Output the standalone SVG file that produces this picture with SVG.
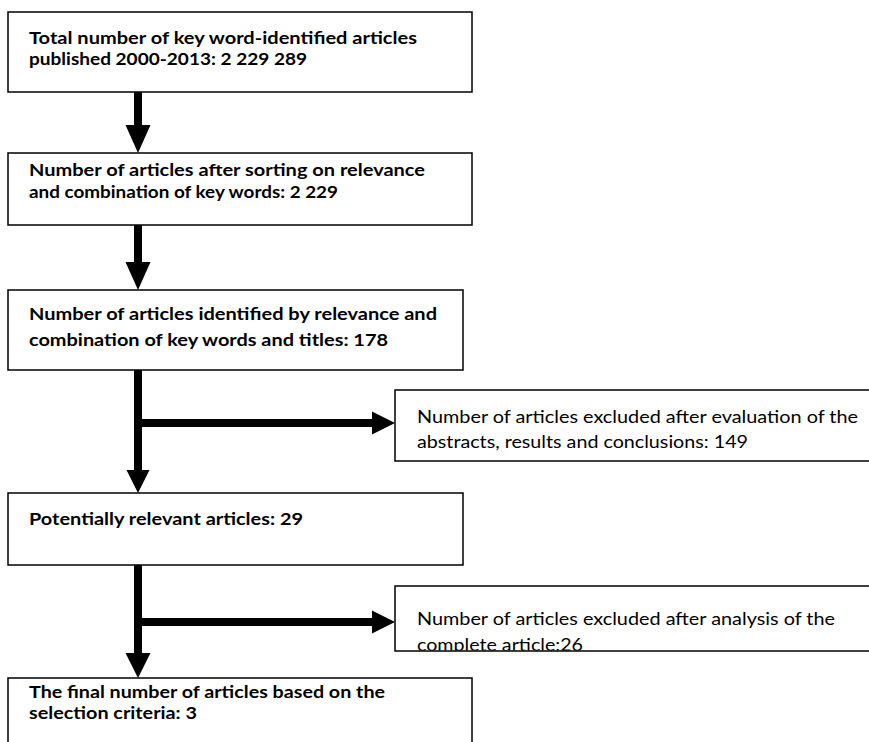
<svg xmlns="http://www.w3.org/2000/svg" width="869" height="742" viewBox="0 0 869 742">
<style>
.box{fill:#fff;stroke:#000;stroke-width:1.5}
.b{font-family:Lato,"Open Sans","Liberation Sans",sans-serif;font-weight:bold;font-size:17.5px;fill:#000}
.r{font-family:Lato,"Open Sans","Liberation Sans",sans-serif;font-size:17.5px;fill:#000}
.shaft{stroke:#000;stroke-width:8;fill:none}
.head{fill:#000}
</style>
<defs>
<clipPath id="clip7"><rect x="396" y="587" width="480" height="63.5"/></clipPath>
</defs>
<rect width="869" height="742" fill="#fff"/>
<g id="connectors">
<line class="shaft" x1="138" y1="92" x2="138" y2="127"/>
<polygon class="head" points="125.5,125 150.5,125 138,153"/>
<line class="shaft" x1="138" y1="225" x2="138" y2="264"/>
<polygon class="head" points="125.5,262 150.5,262 138,290"/>
<line class="shaft" x1="138" y1="370" x2="138" y2="472"/>
<polygon class="head" points="126.5,470 149.5,470 138,493"/>
<line class="shaft" x1="134" y1="423" x2="374" y2="423"/>
<polygon class="head" points="372,411.5 372,434.5 395,423"/>
<line class="shaft" x1="138" y1="565" x2="138" y2="655"/>
<polygon class="head" points="125.5,653 150.5,653 138,678"/>
<line class="shaft" x1="134" y1="622" x2="374" y2="622"/>
<polygon class="head" points="372,610.5 372,633.5 395,622"/>
</g>
<g id="n1">
<rect class="box" x="8" y="12" width="464" height="80"/>
<text class="b" x="29" y="44" textLength="388" lengthAdjust="spacingAndGlyphs">Total number of key word-identified articles</text>
<text class="b" x="29" y="65" textLength="278" lengthAdjust="spacingAndGlyphs">published 2000-2013: 2 229 289</text>
</g>
<g id="n2">
<rect class="box" x="8" y="153" width="464" height="72"/>
<text class="b" x="29" y="176" textLength="396" lengthAdjust="spacingAndGlyphs">Number of articles after sorting on relevance</text>
<text class="b" x="29" y="198" textLength="309" lengthAdjust="spacingAndGlyphs">and combination of key words: 2 229</text>
</g>
<g id="n3">
<rect class="box" x="8" y="290" width="455" height="80"/>
<text class="b" x="29" y="320" textLength="408" lengthAdjust="spacingAndGlyphs">Number of articles identified by relevance and</text>
<text class="b" x="29" y="346" textLength="359" lengthAdjust="spacingAndGlyphs">combination of key words and titles: 178</text>
</g>
<g id="n5">
<rect class="box" x="395" y="390" width="485" height="71"/>
<text class="r" x="417" y="423" textLength="441" lengthAdjust="spacingAndGlyphs">Number of articles excluded after evaluation of the</text>
<text class="r" x="417" y="448" textLength="331" lengthAdjust="spacingAndGlyphs">abstracts, results and conclusions: 149</text>
</g>
<g id="n4">
<rect class="box" x="8" y="493" width="455" height="72"/>
<text class="b" x="29" y="525" textLength="274" lengthAdjust="spacingAndGlyphs">Potentially relevant articles: 29</text>
</g>
<g id="n7">
<rect class="box" x="395" y="586" width="485" height="65"/>
<g clip-path="url(#clip7)">
<text class="r" x="417" y="625" textLength="418" lengthAdjust="spacingAndGlyphs">Number of articles excluded after analysis of the</text>
<text class="r" x="417" y="651" textLength="166" lengthAdjust="spacingAndGlyphs">complete article:26</text>
</g>
</g>
<g id="n6">
<rect class="box" x="8" y="678" width="464" height="80"/>
<text class="b" x="29" y="698" textLength="356" lengthAdjust="spacingAndGlyphs">The final number of articles based on the</text>
<text class="b" x="29" y="719" textLength="168" lengthAdjust="spacingAndGlyphs">selection criteria: 3</text>
</g>
</svg>
